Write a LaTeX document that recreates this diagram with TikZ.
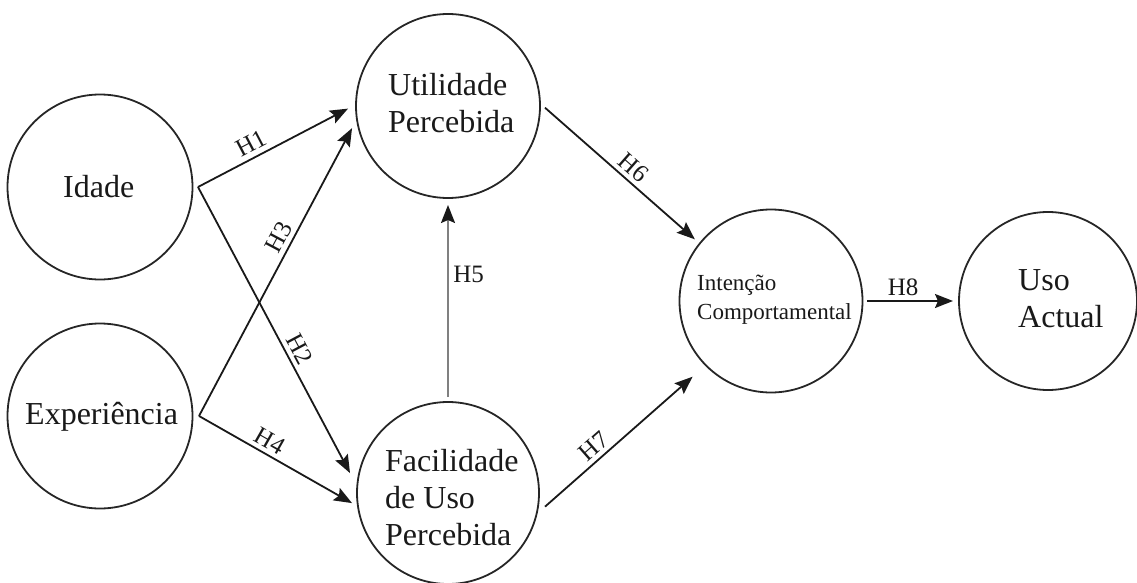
\documentclass[tikz,border=0pt]{standalone}
\usepackage{fontspec}
\setmainfont{Liberation Serif}
\usetikzlibrary{arrows.meta,calc}

\begin{document}
\begin{tikzpicture}[x=1pt,y=-1pt,
  construct/.style={draw=black!85, line width=1.8pt, circle, minimum size=#1, inner sep=0pt},
  bigtext/.style={font=\fontsize{32}{37}\selectfont, text=black!90, inner sep=0pt, anchor=west, align=left},
  smalltext/.style={font=\fontsize{23}{29}\selectfont, text=black!90, inner sep=0pt, anchor=west, align=left},
  hlab/.style={font=\fontsize{25}{30}\selectfont, text=black!90, inner sep=4.5pt},
  arr/.style={draw=black!90, line width=1.8pt, -{Stealth[length=18pt,width=14pt,inset=3pt]}},
  grayarr/.style={draw=black!50, line width=1.8pt, -{Stealth[length=18pt,width=14pt,inset=3pt,color=black!90]}}]

\useasboundingbox (0,0) rectangle (1137,583);

% constructs of the model
\node[construct=185pt] (id) at (100,187) {};
\node[construct=185pt] (ex) at (100,416) {};
\node[construct=184pt] (ut) at (448,106) {};
\node[construct=182pt] (fa) at (448,493) {};
\node[construct=183pt] (ic) at (771,301) {};
\node[construct=178pt] (ua) at (1048,301) {};

% construct names
\node[bigtext] (id-t) at (63,187) {Idade};
\node[bigtext] (ex-t) at (25,417) {Experiência};
\node[bigtext] (ut-t) at (388,103) {Utilidade\\Percebida};
\node[bigtext] (fa-t) at (385,498) {Facilidade\\de Uso\\Percebida};
\node[smalltext] (ic-t) at (697,300) {Intenção\\Comportamental};
\node[bigtext] (ua-t) at (1018,299) {Uso\\Actual};

% hypotheses
\draw[arr] ($(id)+(0:98pt)$) -- node[hlab, sloped, above, pos=.4] (h1) {H1} ($(ut)+(181.5:100pt)$);
\draw[arr] ($(id)+(0:98pt)$) -- node[hlab, sloped, above, pos=.59] (h2) {H2} ($(fa)+(168.5:100pt)$);
\draw[arr] ($(ex)+(0:99pt)$) -- node[hlab, sloped, above, pos=.6] (h3) {H3} ($(ut)+(193:98.5pt)$);
\draw[arr] ($(ex)+(0:99pt)$) -- node[hlab, sloped, above, pos=.42] (h4) {H4} ($(fa)+(186:96.5pt)$);
\draw[grayarr] ($(fa)+(90:96pt)$) -- node[hlab, right, pos=.64] (h5) {H5} ($(ut)+(270:99pt)$);
\draw[arr] ($(ut)+(-1:97pt)$) -- node[hlab, sloped, above, pos=.53] (h6) {H6} ($(ic)+(141:98pt)$);
\draw[arr] ($(fa)+(-8:98pt)$) -- node[hlab, sloped, above, pos=.39] (h7) {H7} ($(ic)+(224:109pt)$);
\draw[arr] ($(ic)+(0:96pt)$) -- node[hlab, above, pos=.42] (h8) {H8} ($(ua)+(180:95pt)$);

\end{tikzpicture}
\end{document}
